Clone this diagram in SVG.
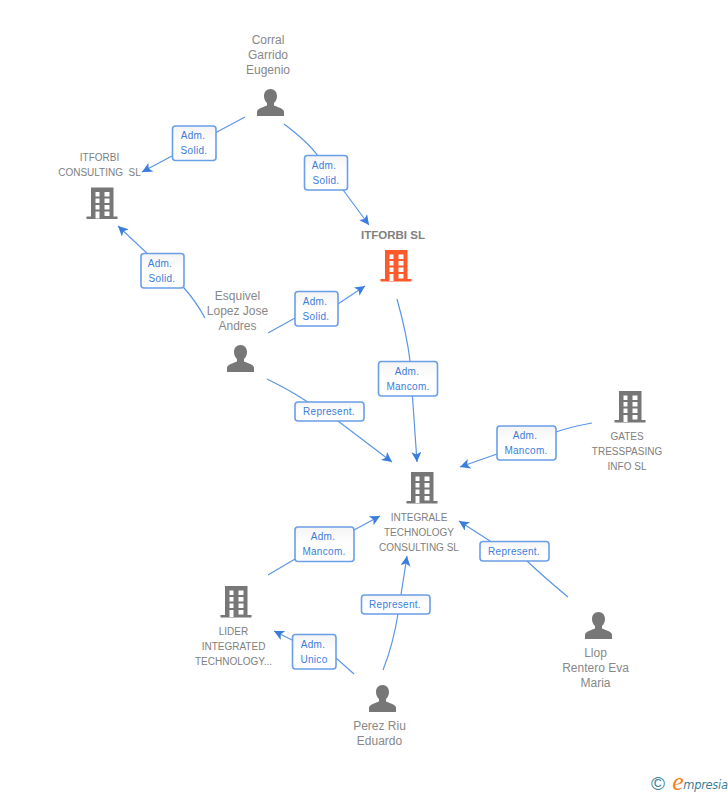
<svg xmlns="http://www.w3.org/2000/svg" width="728" height="795" viewBox="0 0 728 795">
<style>
text{font-family:"Liberation Sans",Arial,sans-serif;text-anchor:middle}
.p{font-size:12px;fill:#888}
.c{font-size:10px;fill:#808080}
.b{font-size:11.500px;font-weight:bold;fill:#808080}
.l{font-size:10px;fill:#3b7ddd;letter-spacing:.3px}
.box{fill:url(#bg);stroke:#6a9fe8;stroke-width:1.600}
.con{fill:none;stroke:#5b95e6;stroke-width:1.200;marker-end:url(#arr)}
.g{fill:#777}
.o{fill:#ff5a2c}
</style>
<defs>
<linearGradient id="bg" x1="0" y1="0" x2="0" y2="1"><stop offset="0" stop-color="#f4f4f4"/><stop offset=".5" stop-color="#fff"/><stop offset="1" stop-color="#fff"/></linearGradient>
<marker id="arr" markerUnits="userSpaceOnUse" markerWidth="12" markerHeight="12" refX="10" refY="5" orient="auto"><path d="M0 0L10 5L0 10L2.500 5Z" fill="#3b7ddd"/></marker>
<path id="bld" fill-rule="evenodd" d="M4.500 0H27V29H31V31.500H0V29H4.500ZM9 4.500V9H13V4.500ZM18 4.500V9H23V4.500ZM9 11V15.500H13V11ZM18 11V15.500H23V11ZM9 17.500V22H13V17.500ZM18 17.500V22H23V17.500ZM9 24V31H13V24ZM18 24V28.500H23V24Z" transform="translate(0 1.500)"/>
<path id="per" d="M13.500 0C17.500 0 20 3 20 7C20 10 18.700 12.500 17 14V16.500C20 18 26 19 27 22.500V27H0V22.500C1 19 7 18 10 16.500V14C8.300 12.500 7 10 7 7C7 3 9.500 0 13.500 0Z"/>
</defs>
<g id="connectors">
<path class="con" d="M245 117L142 172"/>
<path class="con" d="M284 124Q308 142 318 156L369 225"/>
<path class="con" d="M205 318Q195 300 184 288L118 226"/>
<path class="con" d="M268 333L295 318L338 304L365 286"/>
<path class="con" d="M397 299Q407 335 410 361L417 462"/>
<path class="con" d="M267 379Q285 388 295 394L338 421L392 462"/>
<path class="con" d="M592 423Q570 427 556 432L497 454L460 467"/>
<path class="con" d="M268 575L295 559L354 530L380 516"/>
<path class="con" d="M383 670Q393 645 398 614L407 556"/>
<path class="con" d="M354 674L336 658L292 640L274 631"/>
<path class="con" d="M568 597Q545 578 527 561L490 541L459 521"/>
</g>
<g id="label-1"><rect class="box" x="172.500" y="126" width="43.500" height="34.500" rx="3"/><text class="l" x="193" y="139">Adm.</text><text class="l" x="194" y="154">Solid.</text></g>
<g id="label-2"><rect class="box" x="304.500" y="155.500" width="43" height="34.500" rx="3"/><text class="l" x="324" y="169">Adm.</text><text class="l" x="326" y="184">Solid.</text></g>
<g id="label-3"><rect class="box" x="141" y="253.500" width="43" height="34.500" rx="3"/><text class="l" x="160" y="267">Adm.</text><text class="l" x="162" y="282">Solid.</text></g>
<g id="label-4"><rect class="box" x="295" y="291.500" width="43" height="34.500" rx="3"/><text class="l" x="315" y="305">Adm.</text><text class="l" x="316" y="320">Solid.</text></g>
<g id="label-5"><rect class="box" x="378.500" y="361.500" width="59" height="34.500" rx="3"/><text class="l" x="407" y="375">Adm.</text><text class="l" x="408" y="390">Mancom.</text></g>
<g id="label-6"><rect class="box" x="295" y="402" width="69" height="19" rx="3"/><text class="l" x="329" y="415">Represent.</text></g>
<g id="label-7"><rect class="box" x="497" y="426" width="59" height="34" rx="3"/><text class="l" x="525" y="439">Adm.</text><text class="l" x="526" y="454">Mancom.</text></g>
<g id="label-8"><rect class="box" x="295" y="527" width="59" height="34.500" rx="3"/><text class="l" x="323" y="540">Adm.</text><text class="l" x="324" y="555">Mancom.</text></g>
<g id="label-9"><rect class="box" x="361.500" y="595" width="68.500" height="19" rx="3"/><text class="l" x="395" y="608">Represent.</text></g>
<g id="label-10"><rect class="box" x="292.500" y="634.500" width="43.500" height="34.500" rx="3"/><text class="l" x="313" y="648">Adm.</text><text class="l" x="314" y="663">Unico</text></g>
<g id="label-11"><rect class="box" x="480" y="541.500" width="69" height="19.500" rx="3"/><text class="l" x="514" y="555">Represent.</text></g>
<g id="corral"><use href="#per" class="g" x="257" y="89"/><text class="p" x="268" y="44">Corral</text><text class="p" x="268" y="59">Garrido</text><text class="p" x="268" y="74">Eugenio</text></g>
<g id="itforbi-consulting"><use href="#bld" class="g" x="86.500" y="186"/><text class="c" x="99.500" y="161">ITFORBI</text><text class="c" x="99.500" y="176" xml:space="preserve">CONSULTING  SL</text></g>
<g id="itforbi-sl"><use href="#bld" class="o" x="380.500" y="248.500"/><text class="b" x="393" y="239">ITFORBI SL</text></g>
<g id="esquivel"><use href="#per" class="g" x="227" y="345"/><text class="p" x="237.500" y="300">Esquivel</text><text class="p" x="237.500" y="315">Lopez Jose</text><text class="p" x="237.500" y="330">Andres</text></g>
<g id="gates"><use href="#bld" class="g" x="614.500" y="389.500"/><text class="c" x="627" y="440">GATES</text><text class="c" x="627" y="455">TRESSPASING</text><text class="c" x="627" y="470">INFO SL</text></g>
<g id="integrale"><use href="#bld" class="g" x="406.500" y="470.500"/><text class="c" x="419" y="521">INTEGRALE</text><text class="c" x="419" y="536">TECHNOLOGY</text><text class="c" x="419" y="551">CONSULTING SL</text></g>
<g id="lider"><use href="#bld" class="g" x="220.500" y="584.500"/><text class="c" x="233.500" y="635">LIDER</text><text class="c" x="233.500" y="650">INTEGRATED</text><text class="c" x="233.500" y="665">TECHNOLOGY...</text></g>
<g id="llop"><use href="#per" class="g" x="585" y="612"/><text class="p" x="595.500" y="657">Llop</text><text class="p" x="595.500" y="672">Rentero Eva</text><text class="p" x="595.500" y="687">Maria</text></g>
<g id="perez"><use href="#per" class="g" x="369" y="685"/><text class="p" x="379.500" y="730">Perez Riu</text><text class="p" x="379.500" y="745">Eduardo</text></g>
<g id="logo"><text x="658" y="790" style="font-size:19px;fill:#3d7f96">©</text><text x="678" y="790" style="font-size:26px;font-style:italic;fill:#f58220;font-family:'Liberation Serif',serif">e</text><text x="705.500" y="789" style="font-size:11.500px;font-style:italic;fill:#3d7f96;font-family:'DejaVu Sans',sans-serif;letter-spacing:-.3px">mpresia</text></g>
</svg>
